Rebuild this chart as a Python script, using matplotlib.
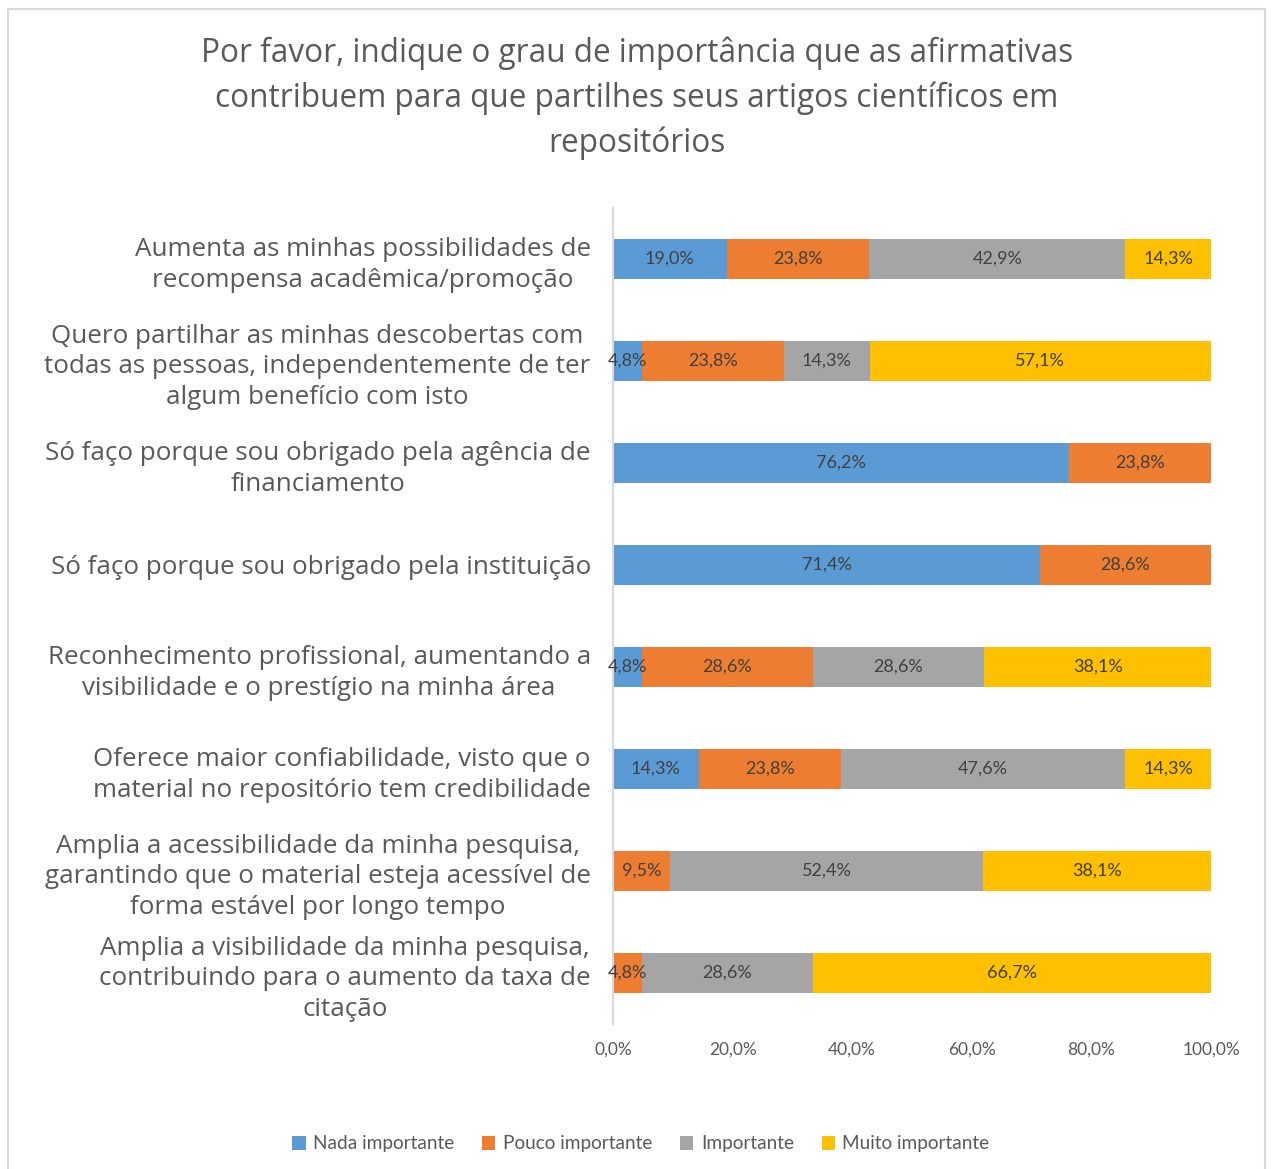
import numpy as np
import matplotlib
matplotlib.use("Agg")
import matplotlib.pyplot as plt
from matplotlib.patches import Rectangle

# dados
categorias = [
    "Aumenta as minhas possibilidades de\nrecompensa acadêmica/promoção",
    "Quero partilhar as minhas descobertas com\ntodas as pessoas, independentemente de ter\nalgum benefício com isto",
    "Só faço porque sou obrigado pela agência de\nfinanciamento",
    "Só faço porque sou obrigado pela instituição",
    "Reconhecimento profissional, aumentando a\nvisibilidade e o prestígio na minha área",
    "Oferece maior confiabilidade, visto que o\nmaterial no repositório tem credibilidade",
    "Amplia a acessibilidade da minha pesquisa,\ngarantindo que o material esteja acessível de\nforma estável por longo tempo",
    "Amplia a visibilidade da minha pesquisa,\ncontribuindo para o aumento da taxa de\ncitação",
]
nada = [19.0, 4.8, 76.2, 71.4, 4.8, 14.3, 0.0, 0.0]
pouco = [23.8, 23.8, 23.8, 28.6, 28.6, 23.8, 9.5, 4.8]
importante = [42.9, 14.3, 0.0, 0.0, 28.6, 47.6, 52.4, 28.6]
muito = [14.3, 57.1, 0.0, 0.0, 38.1, 14.3, 38.1, 66.7]

series = ["Nada importante", "Pouco importante", "Importante", "Muito importante"]
cores = ["#5B9BD5", "#ED7D31", "#A5A5A5", "#FFC000"]
xticks = [0, 20, 40, 60, 80, 100]

titulo = ("Por favor, indique o grau de importância que as afirmativas\n"
          "contribuem para que partilhes seus artigos científicos em\n"
          "repositórios")

fig = plt.figure(figsize=(12.71, 11.69), dpi=100)
ax = fig.add_axes([613/1271, 1 - 1024/1169, (1211 - 613)/1271, (1024 - 208)/1169])

# moldura do gráfico
fig.patches.append(Rectangle((8/1271, -0.01), (1265 - 8)/1271, 1 - 9/1169 + 0.01,
                             transform=fig.transFigure, fill=False,
                             edgecolor="#D9D9D9", linewidth=1.5))

y = np.arange(len(categorias))
esquerda = np.zeros(len(categorias))
for nome, vals, cor in zip(series, [nada, pouco, importante, muito], cores):
    v = np.array(vals) / 100
    ax.barh(y, v, left=esquerda, height=0.39, color=cor, label=nome)
    for yi, (l, w) in enumerate(zip(esquerda, v)):
        if w > 0:
            ax.text(l + w / 2, yi, f"{w*100:.1f}%".replace(".", ","),
                    ha="center", va="center", fontsize=13,
                    color="#404040", family="Lato")
    esquerda += v

ax.set_ylim(len(categorias) - 0.5, -0.5)
ax.set_xlim(0, 1.0)
ax.set_yticks(y)
ax.set_yticklabels(categorias, fontsize=18.7, color="#595959",
                   family="Open Sans", multialignment="center", linespacing=1.29)
ax.set_xticks([t / 100 for t in xticks])
ax.set_xticklabels([f"{t:.1f}%".replace(".", ",") for t in xticks],
                   fontsize=12.5, color="#595959", family="Lato")
ax.tick_params(axis="both", length=0)
ax.tick_params(axis="y", pad=16)
ax.tick_params(axis="x", pad=13)
for s in ["top", "right", "bottom"]:
    ax.spines[s].set_visible(False)
ax.spines["left"].set_color("#D9D9D9")
ax.spines["left"].set_linewidth(1.5)

fig.text(637/1271, 1 - 98/1169, titulo, ha="center", va="center",
         fontsize=22.7, color="#595959", family="Open Sans", linespacing=1.45)

fig.legend(loc="center", bbox_to_anchor=(641/1271, 1 - 1144/1169), ncol=4,
           frameon=False, handlelength=0.7, handleheight=0.7,
           columnspacing=1.45, handletextpad=0.4,
           labelcolor="#595959", prop={"family": "Lato", "size": 13.7})

fig.savefig("out.png", dpi=100, facecolor="white")
